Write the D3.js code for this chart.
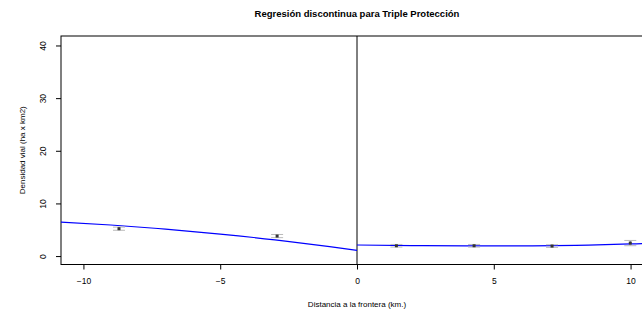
<!DOCTYPE html>
<html>
<head>
<meta charset="utf-8">
<script src="https://cdn.jsdelivr.net/npm/d3@7"></script>
<style>
  body { margin: 0; background: #fff; }
  svg { display: block; font-family: "Liberation Sans", Arial, sans-serif; }
</style>
</head>
<body>
<svg id="chart" width="642" height="312"></svg>
<script>
// bin means with their standard errors
let binX = [-8.7, -2.92, 1.44, 4.28, 7.13, 9.99];
let binY = [5.2, 3.8, 1.96, 1.96, 1.9, 2.47];
let binSe = [0.3, 0.3, 0.25, 0.25, 0.25, 0.5];

// fitted curves
let leftFitX = [-10.82, -9, -7, -5, -3, -1, 0];
let leftFitY = [6.46, 5.9, 5.12, 4.18, 3.07, 1.78, 1.08];
let rightFitX = [0, 2, 4, 6, 8, 10, 10.82];
let rightFitY = [2.1, 2.0, 1.93, 1.93, 2.05, 2.3, 2.45];

let xTicks = [-10, -5, 0, 5, 10];
let yTicks = [0, 10, 20, 30, 40];

function makeChart() {
  let svg = d3.select('#chart');

  // plot region, R style (4% padding on x)
  let left = 61, right = 653, top = 36, bottom = 264.5;

  let xScale = d3.scaleLinear()
    .domain([-10.82, 10.82])
    .range([left, right]);

  let yScale = d3.scaleLinear()
    .domain([-1.6, 41.8])
    .range([bottom, top]);

  // box (right side falls off the page)
  svg.append('rect')
    .attr('x', left)
    .attr('y', top)
    .attr('width', right - left)
    .attr('height', bottom - top)
    .attr('fill', 'none')
    .attr('stroke', '#000')
    .attr('stroke-width', 1);

  // cutoff line
  svg.append('line')
    .attr('x1', xScale(0)).attr('x2', xScale(0))
    .attr('y1', top).attr('y2', bottom)
    .attr('stroke', '#000')
    .attr('stroke-width', 1);

  // AXES
  let xAxis = d3.axisBottom(xScale)
    .tickValues(xTicks)
    .tickSize(5)
    .tickPadding(8)
    .tickFormat((d) => d < 0 ? '\u2212' + Math.abs(d) : d);

  let gx = svg.append('g')
    .attr('transform', `translate(0, ${bottom})`)
    .call(xAxis);
  gx.select('.domain').remove();
  gx.selectAll('text').attr('font-size', 8.5).attr('fill', '#000').attr('font-family', null);

  let yAxis = d3.axisLeft(yScale)
    .tickValues(yTicks)
    .tickSize(5);

  let gy = svg.append('g')
    .attr('transform', `translate(${left}, 0)`)
    .call(yAxis);
  gy.select('.domain').remove();
  gy.selectAll('text')
    .attr('font-size', 8.5)
    .attr('fill', '#000')
    .attr('font-family', null)
    .attr('x', null).attr('dy', null)
    .attr('text-anchor', 'middle')
    .attr('transform', 'translate(-15, 0) rotate(-90)');

  // fitted curves
  let line = d3.line()
    .x((d) => xScale(d[0]))
    .y((d) => yScale(d[1]))
    .curve(d3.curveNatural);

  svg.append('path')
    .datum(leftFitX.map((x, i) => [x, leftFitY[i]]))
    .attr('d', line)
    .attr('fill', 'none')
    .attr('stroke', '#0000ff')
    .attr('stroke-width', 1.2);

  svg.append('path')
    .datum(rightFitX.map((x, i) => [x, rightFitY[i]]))
    .attr('d', line)
    .attr('fill', 'none')
    .attr('stroke', '#0000ff')
    .attr('stroke-width', 1.2);

  // error bars
  let bins = binX.map((x, i) => ({x: x, y: binY[i], se: binSe[i]}));

  let eb = svg.selectAll('.eb')
    .data(bins)
    .enter()
    .append('g')
    .attr('class', 'eb');

  eb.append('line')
    .attr('x1', (d) => xScale(d.x)).attr('x2', (d) => xScale(d.x))
    .attr('y1', (d) => yScale(d.y - d.se)).attr('y2', (d) => yScale(d.y + d.se))
    .attr('stroke', '#999');
  eb.append('line')
    .attr('x1', (d) => xScale(d.x) - 6).attr('x2', (d) => xScale(d.x) + 6)
    .attr('y1', (d) => yScale(d.y - d.se)).attr('y2', (d) => yScale(d.y - d.se))
    .attr('stroke', '#bbb');
  eb.append('line')
    .attr('x1', (d) => xScale(d.x) - 6).attr('x2', (d) => xScale(d.x) + 6)
    .attr('y1', (d) => yScale(d.y + d.se)).attr('y2', (d) => yScale(d.y + d.se))
    .attr('stroke', '#bbb');
  eb.append('rect')
    .attr('x', (d) => xScale(d.x) - 1.5)
    .attr('y', (d) => yScale(d.y) - 1.5)
    .attr('width', 3)
    .attr('height', 3)
    .attr('fill', '#333');

  // titles
  svg.append('text')
    .attr('x', (left + right) / 2)
    .attr('y', 17)
    .attr('text-anchor', 'middle')
    .attr('font-size', 9.5)
    .attr('font-weight', 'bold')
    .text('Regresión discontinua para Triple Protección');

  svg.append('text')
    .attr('x', (left + right) / 2)
    .attr('y', 307)
    .attr('text-anchor', 'middle')
    .attr('font-size', 8)
    .text('Distancia a la frontera (km.)');

  svg.append('text')
    .attr('transform', `translate(25, ${(top + bottom) / 2}) rotate(-90)`)
    .attr('text-anchor', 'middle')
    .attr('font-size', 8)
    .text('Densidad vial (ha x km2)');
}

makeChart();
</script>
</body>
</html>
